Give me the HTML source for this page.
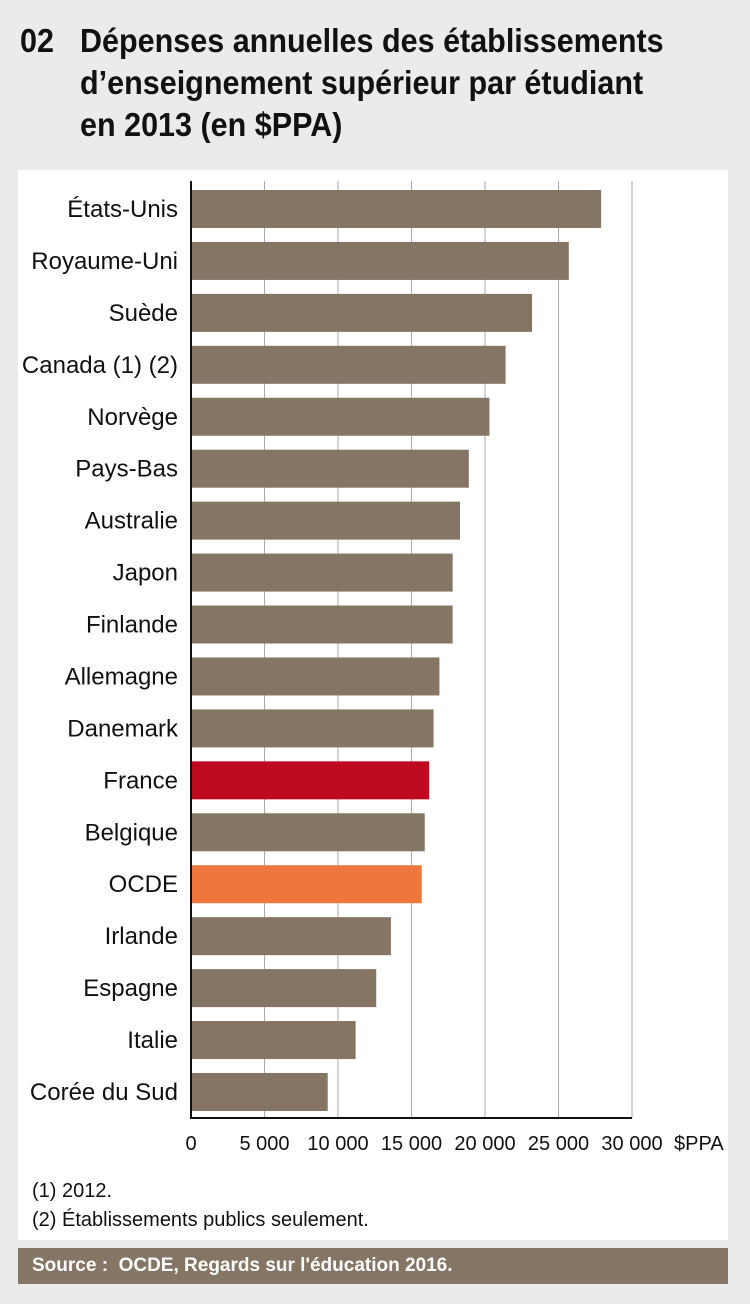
<!DOCTYPE html>
<html><head><meta charset="utf-8"><style>
body{margin:0;width:750px;height:1304px;background:#ebebeb;font-family:"Liberation Sans Narrow","Liberation Sans",sans-serif;position:relative;overflow:hidden}
.t{position:absolute;font-weight:bold;font-size:33px;color:#111;line-height:42px;transform:scaleX(0.925);transform-origin:0 0;white-space:nowrap}
</style></head><body>
<div class="t" style="left:20px;top:20px">02</div>
<div class="t" style="left:80px;top:20px">Dépenses annuelles des établissements<br>d’enseignement supérieur par étudiant<br>en 2013 (en $PPA)</div>
<div style="position:absolute;left:18px;top:170px;width:710px;height:1070px;background:#fff"></div>
<svg id="c" width="750" height="1304" style="position:absolute;left:0;top:0"></svg>
<div style="position:absolute;left:32px;top:1180px;font-size:20px;color:#111">(1) 2012.</div>
<div style="position:absolute;left:32px;top:1209px;font-size:20px;color:#111">(2) Établissements publics seulement.</div>
<div style="position:absolute;left:18px;top:1248px;width:710px;height:36px;background:#857565;color:#fff;font-weight:bold;font-size:19px;line-height:36px;padding-left:14px;box-sizing:border-box">Source :&nbsp; OCDE, Regards sur l'éducation 2016.</div>
<script>
const categories=["États-Unis","Royaume-Uni","Suède","Canada (1) (2)","Norvège","Pays-Bas","Australie","Japon","Finlande","Allemagne","Danemark","France","Belgique","OCDE","Irlande","Espagne","Italie","Corée du Sud"];
const values=[27900,25700,23200,21400,20300,18900,18300,17800,17800,16900,16500,16200,15900,15700,13600,12600,11200,9300];
const ticks=[0,5000,10000,15000,20000,25000,30000];
const tickLabels=["0","5 000","10 000","15 000","20 000","25 000","30 000"];
const NS="http://www.w3.org/2000/svg",svg=document.getElementById('c');
const x=v=>191+v*(441/30000), y=i=>190+i*51.94;
function mk(t,a){const e=document.createElementNS(NS,t);for(const k in a)e.setAttribute(k,a[k]);svg.appendChild(e);return e;}
ticks.forEach((t,i)=>{
 if(i>0){const g=mk('line',{x1:x(t),x2:x(t),y1:181,y2:1118,stroke:'#aaa','stroke-width':1});
 
 }
 const l=mk('text',{x:x(t),y:1150,'text-anchor':'middle','font-size':20,fill:'#111','font-family':'Liberation Sans Narrow, Liberation Sans, sans-serif'});
 l.textContent=tickLabels[i];
 
 
});
const u=mk('text',{x:674,y:1150,'font-size':20,fill:'#111','font-family':'Liberation Sans Narrow, Liberation Sans, sans-serif'});u.textContent='$PPA';


categories.forEach((c,i)=>{
 const col=c==='France'?'#be0a1e':c==='OCDE'?'#ee773e':'#857565';
 const b=mk('rect',{x:191,y:y(i),width:x(values[i])-191,height:38,fill:col});
 
 
 const l=mk('text',{x:178,y:y(i)+27,'text-anchor':'end','font-size':24,fill:'#111','font-family':'Liberation Sans Narrow, Liberation Sans, sans-serif'});
 l.textContent=c;
 
 
});
const ya=mk('line',{x1:191,x2:191,y1:181,y2:1119,stroke:'#111','stroke-width':2});


const xa=mk('line',{x1:190,x2:632,y1:1118,y2:1118,stroke:'#111','stroke-width':2});


</script>
</body></html>
